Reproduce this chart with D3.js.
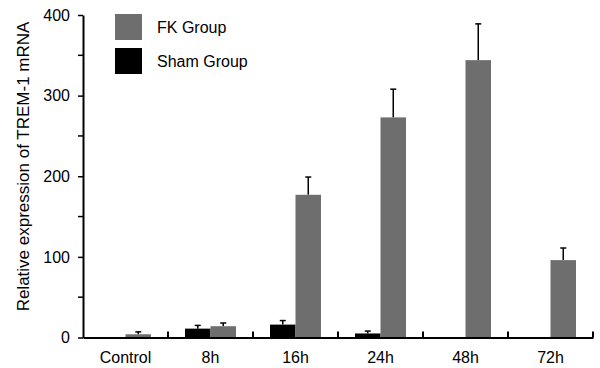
<!DOCTYPE html>
<html>
<head>
<meta charset="utf-8">
<script src="https://cdn.jsdelivr.net/npm/d3@7"></script>
<style>
  body { margin: 0; background: #fff; }
  svg text { font-family: "Liberation Sans", Arial, sans-serif; }
</style>
</head>
<body>
<svg id="chart" width="600" height="368"></svg>
<script>
(function () {
    'use strict';

    const categories = ["Control", "8h", "16h", "24h", "48h", "72h"];
    const groups = ["Sham Group", "FK Group"];
    const shamMean = [0, 11, 16, 5, 0, 0];
    const shamErr = [0, 4, 5, 3, 0, 0];
    const fkMean = [4, 14, 177, 273, 344, 96];
    const fkErr = [3, 4, 22, 35, 45, 15];
    const yTicks = [0, 100, 200, 300, 400];
    const yMinorTicks = [50, 150, 250, 350];

    const colors = { "Sham Group": "#000000", "FK Group": "#6e6e6e" };

    const svg = d3.select("#chart");
    const margin = { left: 83, right: 7, top: 15, bottom: 30 };
    const W = 600, H = 368;

    var x = d3.scaleBand()
        .domain(categories)
        .range([margin.left, W - margin.right])
        .paddingInner(0)
        .paddingOuter(0);

    var inner = d3.scaleBand()
        .domain(groups)
        .range([17, x.bandwidth() - 17]);

    var y = d3.scaleLinear()
        .domain([0, 400])
        .range([H - margin.bottom - 0.5, margin.top]);

    let rows = [];
    categories.forEach(function (c, i) {
        rows.push({ cat: c, group: "Sham Group", v: shamMean[i], e: shamErr[i] });
        rows.push({ cat: c, group: "FK Group", v: fkMean[i], e: fkErr[i] });
    });
    rows = rows.filter(d => d.v > 0);

    // error bars first so bars cover the stem bottom
    let eb = svg.append("g").attr("stroke", "#000").attr("stroke-width", 1.5);
    rows.forEach(function (d) {
        let cx = x(d.cat) + inner(d.group) + inner.bandwidth() / 2;
        eb.append("line")
            .attr("x1", cx).attr("x2", cx)
            .attr("y1", y(d.v)).attr("y2", y(d.v + d.e));
        eb.append("line")
            .attr("x1", cx - 3).attr("x2", cx + 3)
            .attr("y1", y(d.v + d.e)).attr("y2", y(d.v + d.e));
    });

    svg.append("g").selectAll("rect")
        .data(rows)
        .join("rect")
        .attr("x", d => x(d.cat) + inner(d.group))
        .attr("width", inner.bandwidth())
        .attr("y", d => y(d.v))
        .attr("height", d => y(0) - y(d.v))
        .attr("fill", d => colors[d.group]);

    // y axis
    let yAxis = svg.append("g")
        .attr("transform", `translate(${margin.left},0)`)
        .call(d3.axisLeft(y).tickValues(yTicks).tickSize(5).tickPadding(8).tickSizeOuter(0));
    yAxis.select(".domain").attr("stroke-width", 2);
    yAxis.selectAll(".tick line").attr("stroke-width", 1.5);
    yAxis.selectAll("text").attr("font-size", 16).attr("fill", "#000")
        .attr("font-family", "Liberation Sans, Arial, sans-serif");
    yAxis.selectAll(".minor")
        .data(yMinorTicks)
        .join("line")
        .attr("class", "minor")
        .attr("x1", -5).attr("x2", 0)
        .attr("y1", d => y(d)).attr("y2", d => y(d))
        .attr("stroke", "#000").attr("stroke-width", 1.5);

    // x axis
    let xAxis = svg.append("g")
        .attr("transform", `translate(0,${y(0)})`)
        .call(d3.axisBottom(x).tickSize(0).tickPadding(14).tickSizeOuter(0));
    xAxis.select(".domain").attr("stroke-width", 2);
    xAxis.selectAll("text").attr("font-size", 16).attr("fill", "#000")
        .attr("font-family", "Liberation Sans, Arial, sans-serif");
    xAxis.selectAll(".sep")
        .data(categories.slice(1).concat(["end"]))
        .join("line")
        .attr("class", "sep")
        .attr("x1", d => d === "end" ? x.range()[1] : x(d))
        .attr("x2", d => d === "end" ? x.range()[1] : x(d))
        .attr("y1", 0).attr("y2", -6)
        .attr("stroke", "#000").attr("stroke-width", 2);

    // y label
    svg.append("text")
        .attr("transform", "translate(28.5,166.5) rotate(-90)")
        .attr("text-anchor", "middle")
        .attr("font-size", 17)
        .text("Relative expression of TREM-1 mRNA");

    // legend
    let legend = svg.append("g");
    ["FK Group", "Sham Group"].forEach(function (g, i) {
        legend.append("rect")
            .attr("x", 115).attr("y", 14 + i * 34)
            .attr("width", 27).attr("height", 26)
            .attr("fill", colors[g]);
        legend.append("text")
            .attr("x", 157).attr("y", 27 + i * 34)
            .attr("dy", "0.35em")
            .attr("font-size", 16)
            .text(g);
    });
})();
</script>
</body>
</html>
